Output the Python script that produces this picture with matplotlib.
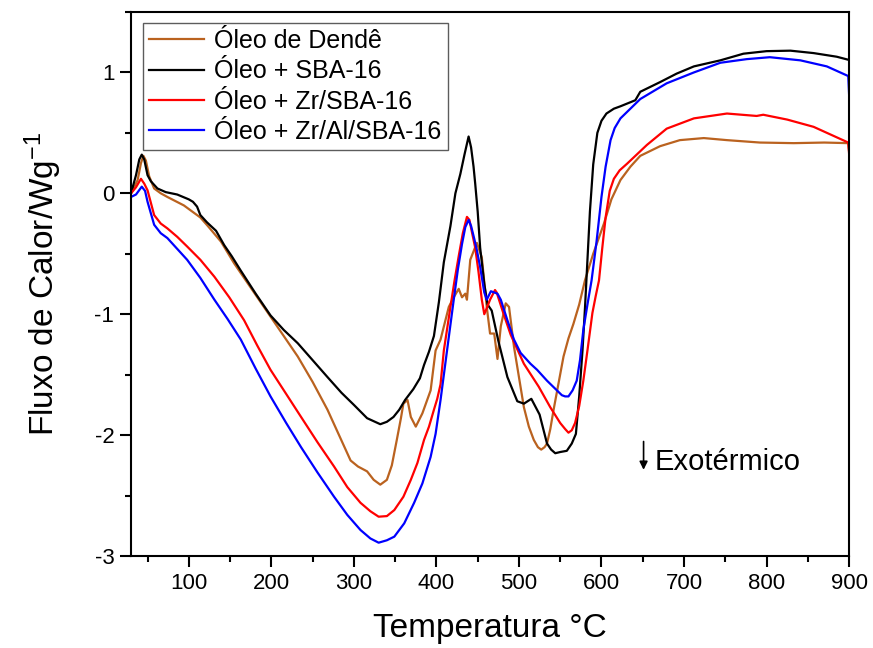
import matplotlib
matplotlib.use("Agg")
import matplotlib.pyplot as plt
from matplotlib.ticker import MultipleLocator

plt.rcParams['font.family'] = ['Liberation Sans', 'DejaVu Sans']
plt.rcParams['mathtext.fontset'] = 'custom'
plt.rcParams['mathtext.rm'] = 'Liberation Sans'
plt.rcParams['mathtext.it'] = 'Liberation Sans'
plt.rcParams['mathtext.default'] = 'regular'

# ---- data ----
labels = ['Óleo de Dendê', 'Óleo + SBA-16', 'Óleo + Zr/SBA-16', 'Óleo + Zr/Al/SBA-16']
colors = ['#BA621F', '#000000', '#FF0000', '#0000FF']

t_dende = [30, 38, 42, 45, 48, 52, 58, 66, 74, 94, 114, 123, 139, 155, 177, 199, 215, 232, 250, 268,
           282, 296, 305, 316, 324, 332, 340, 346, 352, 357, 360, 365, 369, 375, 383, 393, 399, 405, 415,
           421, 427, 431, 435, 437, 441, 449, 455, 461, 465, 470, 474, 478, 484, 488, 494, 500, 506, 512,
           518, 523, 527, 531, 534, 538, 542, 548, 554, 560, 566, 573, 580, 590, 603, 612, 623, 635, 647,
           671, 695, 724, 752, 792, 833, 870, 899, 900]
y_dende = [0.0, 0.11, 0.25, 0.31, 0.27, 0.14, 0.04, 0.0, -0.03, -0.10, -0.20, -0.27, -0.40, -0.58, -0.80,
           -1.02, -1.18, -1.35, -1.56, -1.79, -2.0, -2.21, -2.26, -2.30, -2.37, -2.41, -2.37, -2.25, -2.04,
           -1.86, -1.74, -1.71, -1.85, -1.93, -1.82, -1.63, -1.30, -1.21, -0.94, -0.86, -0.79, -0.86, -0.83,
           -0.88, -0.55, -0.41, -0.53, -0.94, -1.16, -1.16, -1.37, -1.10, -0.91, -0.94, -1.27, -1.52, -1.77,
           -1.93, -2.04, -2.10, -2.12, -2.10, -2.07, -1.95, -1.79, -1.57, -1.35, -1.20, -1.08, -0.92, -0.72,
           -0.50, -0.25, -0.05, 0.11, 0.22, 0.31, 0.39, 0.44, 0.457, 0.44, 0.42, 0.415, 0.42, 0.415, 0.35]

t_sba = [30, 36, 40, 43, 46, 50, 54, 62, 72, 86, 100, 105, 110, 114, 122, 133, 143, 152, 163, 181, 199,
         215, 232, 250, 268, 285, 300, 316, 332, 340, 348, 355, 362, 372, 380, 385, 391, 397, 403, 409,
         417, 423, 429, 434, 439, 442, 445, 447, 450, 453, 458, 462, 467, 475, 486, 498, 506, 515, 525,
         534, 539, 544, 550, 558, 564, 569, 573, 577, 580, 583, 586, 590, 595, 600, 606, 615, 623, 641,
         647, 659, 671, 691, 712, 744, 772, 800, 829, 857, 885, 899]
y_sba = [0.0, 0.15, 0.28, 0.32, 0.28, 0.15, 0.10, 0.04, 0.01, -0.01, -0.05, -0.07, -0.11, -0.18, -0.24,
         -0.31, -0.43, -0.52, -0.64, -0.83, -1.01, -1.13, -1.24, -1.38, -1.52, -1.65, -1.75, -1.86, -1.91,
         -1.89, -1.85, -1.79, -1.71, -1.62, -1.53, -1.42, -1.31, -1.18, -0.90, -0.57, -0.27, 0.0, 0.16,
         0.32, 0.47, 0.38, 0.22, 0.08, -0.15, -0.45, -0.75, -0.92, -0.97, -1.22, -1.52, -1.72, -1.74,
         -1.70, -1.83, -2.07, -2.12, -2.15, -2.14, -2.13, -2.07, -1.99, -1.68, -1.30, -0.95, -0.55, -0.15,
         0.24, 0.50, 0.60, 0.66, 0.70, 0.72, 0.77, 0.84, 0.88, 0.92, 0.99, 1.05, 1.10, 1.155, 1.176, 1.18,
         1.16, 1.13, 1.105]

t_zr = [30, 36, 42, 46, 50, 58, 66, 74, 86, 98, 114, 131, 149, 167, 183, 199, 218, 236, 256, 276, 292,
        308, 320, 330, 340, 349, 360, 369, 377, 385, 391, 397, 401, 405, 409, 413, 417, 422, 427, 432,
        437, 440, 443, 447, 451, 455, 458, 461, 465, 471, 473, 481, 490, 506, 524, 538, 550, 556, 560,
        564, 568, 573, 578, 583, 589, 593, 597, 601, 605, 610, 615, 622, 631, 655, 679, 712, 752, 788,
        796, 825, 857, 899, 900]
y_zr = [0.0, 0.05, 0.12, 0.08, 0.025, -0.18, -0.25, -0.29, -0.36, -0.44, -0.55, -0.69, -0.86, -1.05,
        -1.26, -1.46, -1.66, -1.85, -2.06, -2.26, -2.43, -2.56, -2.63, -2.675, -2.67, -2.62, -2.51, -2.37,
        -2.23, -2.04, -1.93, -1.79, -1.70, -1.58, -1.30, -1.12, -0.94, -0.72, -0.52, -0.33, -0.195, -0.22,
        -0.32, -0.45, -0.65, -0.88, -1.0, -0.95, -0.88, -0.80, -0.82, -0.99, -1.17, -1.41, -1.60, -1.77,
        -1.90, -1.95, -1.98, -1.96, -1.90, -1.76, -1.55, -1.30, -0.99, -0.85, -0.72, -0.45, -0.20, 0.02,
        0.12, 0.19, 0.245, 0.40, 0.535, 0.62, 0.66, 0.64, 0.65, 0.61, 0.55, 0.42, 0.33]

t_zral = [30, 36, 43, 47, 50, 58, 66, 74, 86, 98, 114, 131, 147, 163, 181, 199, 218, 236, 256, 276, 292,
          308, 320, 330, 340, 349, 361, 373, 383, 393, 399, 405, 415, 421, 426, 431, 435, 439, 442, 446,
          449, 453, 458, 461, 466, 474, 478, 486, 494, 502, 514, 522, 534, 552, 556, 560, 565, 570, 574,
          578, 583, 588, 594, 600, 605, 611, 616, 623, 647, 679, 712, 744, 776, 804, 841, 873, 899, 900]
y_zral = [-0.03, -0.01, 0.055, 0.02, -0.07, -0.26, -0.33, -0.37, -0.46, -0.55, -0.70, -0.88, -1.04, -1.21,
          -1.45, -1.68, -1.90, -2.10, -2.31, -2.51, -2.66, -2.785, -2.855, -2.89, -2.87, -2.84, -2.73,
          -2.56, -2.40, -2.18, -1.99, -1.71, -1.19, -0.88, -0.63, -0.42, -0.28, -0.22, -0.27, -0.38, -0.47,
          -0.61, -0.82, -0.88, -0.81, -0.83, -0.88, -1.05, -1.21, -1.32, -1.41, -1.46, -1.55, -1.67, -1.68,
          -1.68, -1.63, -1.55, -1.38, -1.13, -0.92, -0.72, -0.40, -0.03, 0.22, 0.44, 0.54, 0.62, 0.78, 0.91,
          1.00, 1.08, 1.11, 1.126, 1.10, 1.05, 0.97, 0.82]

xticks = [100, 200, 300, 400, 500, 600, 700, 800, 900]
yticks = [-3, -2, -1, 0, 1]

# ---- figure ----
fig = plt.figure(figsize=(8.73, 6.48), dpi=100)
ax = fig.add_axes([0.1501, 0.142, 0.8225, 0.8395])

series = [(t_dende, y_dende), (t_sba, y_sba), (t_zr, y_zr), (t_zral, y_zral)]
for (t, y), c, lab in zip(series, colors, labels):
    ax.plot(t, y, color=c, lw=1.6, label=lab, solid_joinstyle='round')

ax.set_xlim(30, 900)
ax.set_ylim(-3, 1.5)
ax.set_xticks(xticks)
ax.set_yticks(yticks)
ax.set_yticklabels([str(v) for v in yticks])
ax.xaxis.set_minor_locator(MultipleLocator(50))
ax.yaxis.set_minor_locator(MultipleLocator(0.5))
ax.tick_params(which='major', direction='out', length=8, width=1.5, labelsize=16, pad=4)
ax.tick_params(which='minor', direction='out', length=4.5, width=1.5)
for s in ax.spines.values():
    s.set_linewidth(1.5)

ax.set_xlabel('Temperatura °C', fontsize=24, labelpad=14)
ax.set_ylabel('Fluxo de Calor/Wg$^{-1}$', fontsize=24, labelpad=22)

leg = ax.legend(loc='upper left', bbox_to_anchor=(0.0167, 0.98), borderaxespad=0,
                fontsize=18, frameon=True, fancybox=False, edgecolor='#333333',
                handlelength=2.2, handletextpad=0.4, labelspacing=0.25, borderpad=0.25)
leg.get_frame().set_linewidth(1.0)

ax.annotate('', xy=(651, -2.31), xytext=(651, -2.03),
            arrowprops=dict(arrowstyle='-|>', color='k', lw=1.2, mutation_scale=12))
ax.text(664, -2.29, 'Exotérmico', fontsize=21, ha='left', va='baseline')

fig.savefig('out.png', dpi=100)
